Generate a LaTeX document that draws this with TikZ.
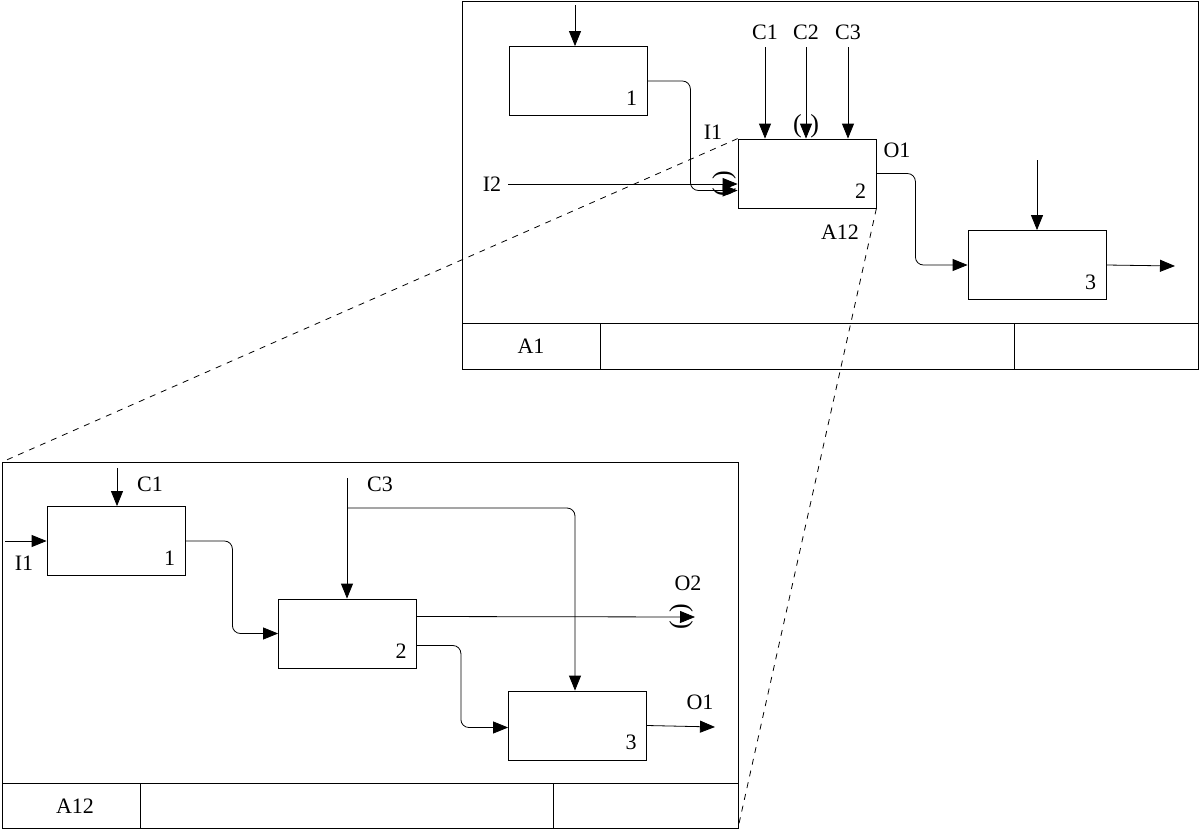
\documentclass[tikz,border=0pt]{standalone}
\usepackage{fontspec}
\setmainfont{Liberation Serif}
\usetikzlibrary{arrows.meta,positioning}

\begin{document}
\begin{tikzpicture}[x=0.5pt,y=-0.5pt,
      box/.style={rectangle, draw=black, minimum width=69pt, minimum height=34.5pt, inner sep=0pt},
      num/.style={anchor=south east, inner sep=5pt},
      pfeil/.style={-{Triangle[length=7.5pt,width=6pt]}, rounded corners=4pt},
      tunnel/.style={inner sep=0pt, font=\fontsize{13}{13}\selectfont},
      lab/.style={inner sep=1pt},
      every node/.style={font=\fontsize{11}{13}\selectfont}]
\useasboundingbox (0,0) rectangle (1200,830);

% frame A1
\draw (462,1) rectangle (1198,369);
\draw (462,323) -- (1198,323);
\draw (600,323) -- (600,369);
\draw (1014,323) -- (1014,369);
\node (t1) at (531,346) {A1};

\node[box] (a1) at (578,81) {};
\node[num] at (a1.south east) {1};
\node[box] (a2) at (807,173.5) {};
\node[num] at (a2.south east) {2};
\node[box] (a3) at (1037,265) {};
\node[num] at (a3.south east) {3};

\coordinate (m1) at (575,5);
\coordinate (c1) at (765,47);
\coordinate (c2) at (806,47);
\coordinate (c3) at (848,47);
\coordinate (i2) at (508,184);
\coordinate (m3) at (1037,160);
\coordinate (o3) at (1175,266);
\node[lab] at (765,32) {C1};
\node[lab] at (806,32) {C2};
\node[lab] at (848,32) {C3};
\node[lab] at (713,132) {I1};
\node[lab] at (492,184) {I2};
\node[lab] at (897,150) {O1};
\node[lab] at (840,232) {A12};

\draw[pfeil] (m1) -- (a1.north -| m1);
\draw[pfeil] (c1) -- (a2.north -| c1);
\draw[pfeil] (c2) -- (a2.north -| c2);
\draw[pfeil] (c3) -- (a2.north -| c3);
\draw[pfeil] (a1.east) -- ++(43,0) |- ([yshift=-8.5pt]a2.west);
\draw[pfeil] (i2) -- (a2.west |- i2);
\draw[pfeil] (a2.east) -- ++(39,0) |- (a3.west);
\draw[pfeil] (m3) -- (a3.north);
\draw[pfeil] (a3.east) -- (o3);
\node[tunnel] at (806,126) {(\,\,)};
\node[tunnel, rotate=90] at (724,184) {(\,\,)};

% zoom lines
\draw[dashed] (a2.north west) -- (2,462);
\draw[dashed] (a2.south east) -- (738,828);

% frame A12
\draw (2,462) rectangle (738,828);
\draw (2,783) -- (738,783);
\draw (140,783) -- (140,828);
\draw (553,783) -- (553,828);
\node (t2) at (75,806) {A12};

\node[box] (b1) at (116,541) {};
\node[num] at (b1.south east) {1};
\node[box] (b2) at (347.5,633.5) {};
\node[num] at (b2.south east) {2};
\node[box] (b3) at (577.5,725.5) {};
\node[num] at (b3.south east) {3};

\coordinate (k1) at (117,468);
\coordinate (e1) at (5,541);
\coordinate (k3) at (347,478);
\coordinate (o2) at (695,617);
\coordinate (o1) at (715,727);
\node[lab] at (150,484) {C1};
\node[lab] at (24,563) {I1};
\node[lab] at (380,484) {C3};
\node[lab] at (688,583) {O2};
\node[lab] at (700,702) {O1};

\draw[pfeil] (k1) -- (b1.north -| k1);
\draw[pfeil] (e1) -- (b1.west);
\draw[pfeil] (b1.east) -- ++(47,0) |- (b2.west);
\draw[pfeil] (k3) -- (b2.north -| k3);
\draw[pfeil] (347,508) -| (b3.north -| 575,0);
\draw[pfeil] ([yshift=8.5pt]b2.east) -- (o2);
\draw[pfeil] ([yshift=-6pt]b2.east) -- ++(44,0) |- ([yshift=-1pt]b3.west);
\draw[pfeil] (b3.east) -- (o1);
\node[tunnel, rotate=90] at (681,617) {(\,\,)};
\end{tikzpicture}
\end{document}
